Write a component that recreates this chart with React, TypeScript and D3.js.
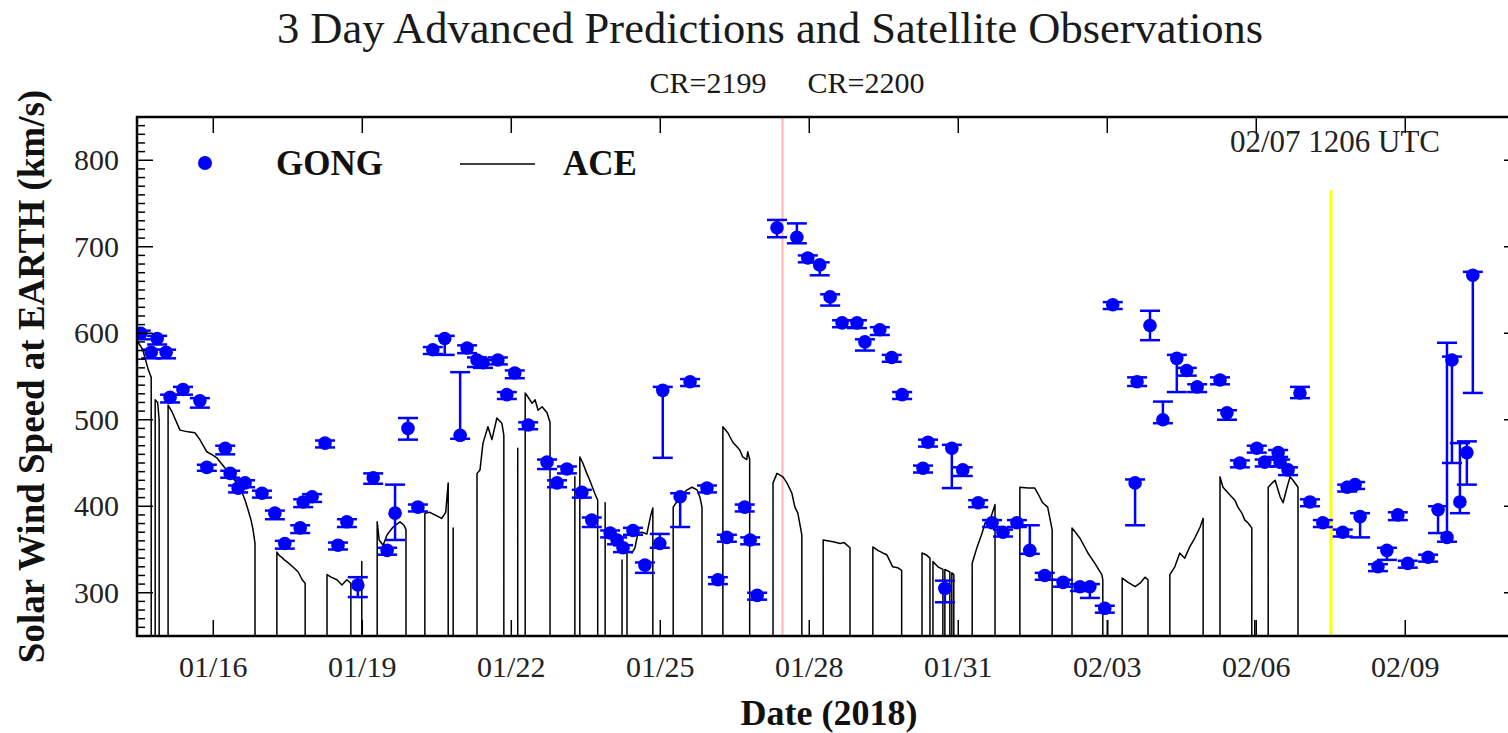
import React from 'react';
import * as d3 from 'd3';

// days are counted from 2018-01-01 (day 1), so Feb 1 = day 32
const xStartDay = 14.464;
const xEndDay = 42.31;
const crBoundaryDay = 27.46;
const nowDay = 38.504; // 02/07 1206 UTC
const nowLineTop = 765;

const xTickDays = [16, 19, 22, 25, 28, 31, 34, 37, 40];
const xTickLabels = ['01/16', '01/19', '01/22', '01/25', '01/28', '01/31', '02/03', '02/06', '02/09'];
const yMajorTicks = [300, 400, 500, 600, 700, 800];

// GONG predictions (day, speed, error down, error up)
const gongDay = [
  14.54, 14.87, 14.75, 15.05, 15.13, 15.39, 15.73, 15.87, 16.24, 16.34,
  16.64, 16.5, 16.98, 17.24, 17.44, 17.75, 17.81, 17.99, 18.25, 18.51,
  18.69, 18.91, 19.22, 19.5, 19.66, 19.92, 20.12, 20.42, 20.66, 20.97,
  21.11, 21.31, 21.43, 21.73, 21.91, 22.07, 22.34, 22.72, 22.92, 23.12,
  23.42, 23.62, 23.99, 24.13, 24.25, 24.45, 24.69, 24.99, 25.05, 25.4,
  25.6, 25.94, 26.16, 26.34, 26.7, 26.81, 26.95, 27.35, 27.75, 27.97,
  28.21, 28.42, 28.66, 28.96, 29.12, 29.42, 29.66, 29.87, 30.29, 30.39,
  30.73, 30.87, 31.09, 31.4, 31.68, 31.9, 32.18, 32.44, 32.74, 33.11,
  33.45, 33.65, 33.95, 34.11, 34.56, 34.6, 34.86, 35.12, 35.4, 35.6,
  35.81, 36.27, 36.41, 36.67, 37.01, 37.17, 37.44, 37.48, 37.64, 37.88,
  38.08, 38.34, 38.74, 38.83, 38.99, 39.09, 39.45, 39.63, 39.85, 40.05,
  40.46, 40.66, 40.84, 40.94, 41.1, 41.24, 41.36,
];
const gongSpeed = [
  600, 594, 578, 578, 526, 535, 522, 445, 467, 438,
  427, 421, 415, 392, 357, 375, 405, 411, 473, 355,
  382, 309, 433, 349, 392, 490, 399, 581, 594, 482,
  583, 569, 566, 569, 529, 554, 494, 451, 427, 443,
  416, 384, 369, 361, 352, 372, 332, 357, 534, 411,
  544, 421, 315, 364, 399, 361, 297, 722, 711, 687,
  679, 642, 612, 612, 590, 604, 572, 529, 444, 474,
  305, 467, 442, 404, 381, 370, 381, 349, 320, 312,
  307, 307, 282, 633, 427, 544, 609, 500, 571, 557,
  538, 546, 508, 450, 467, 451, 462, 451, 442, 531,
  405, 381, 370, 422, 425, 388, 330, 349, 390, 334,
  341, 396, 364, 569, 405, 462, 667,
];
const gongErrDown = [
  7, 7, 7, 7, 6, 6, 8, 4, 7, 5,
  5, 5, 5, 7, 6, 6, 6, 6, 5, 5,
  6, 14, 7, 5, 31, 13, 5, 5, 19, 4,
  6, 8, 6, 5, 5, 6, 5, 8, 5, 5,
  6, 8, 5, 5, 5, 5, 9, 5, 78, 35,
  5, 5, 5, 5, 5, 5, 5, 11, 7, 5,
  12, 10, 5, 6, 10, 6, 5, 5, 5, 5,
  16, 46, 7, 5, 5, 5, 5, 4, 5, 5,
  5, 13, 5, 5, 49, 5, 17, 4, 39, 6,
  6, 5, 8, 5, 5, 5, 5, 5, 6, 6,
  5, 5, 5, 5, 5, 24, 5, 11, 6, 5,
  5, 27, 5, 119, 13, 37, 136,
];
const gongErrUp = [
  3, 3, 3, 3, 3, 3, 3, 3, 3, 3,
  3, 3, 3, 3, 3, 3, 3, 3, 3, 3,
  3, 9, 5, 3, 33, 12, 3, 3, 3, 73,
  3, 3, 3, 3, 3, 3, 3, 3, 3, 3,
  3, 3, 3, 3, 3, 3, 3, 11, 4, 4,
  3, 3, 3, 3, 3, 3, 3, 9, 16, 3,
  3, 3, 3, 3, 3, 3, 3, 3, 3, 3,
  9, 4, 3, 3, 3, 3, 3, 29, 3, 3,
  3, 3, 3, 3, 4, 5, 17, 21, 4, 3,
  3, 3, 3, 3, 3, 3, 3, 3, 3, 7,
  3, 3, 3, 3, 3, 4, 3, 3, 3, 3,
  3, 4, 225, 4, 68, 13, 4,
];

// ACE observations, one list per stretch between data gaps
const aceSegments: [number, number][][] = [
  [[14.46, 592], [14.58, 581], [14.69, 558], [14.75, 549]],
  [[14.83, 523], [14.88, 520], [14.91, 500]],
  [[15.09, 517], [15.17, 509], [15.33, 488], [15.49, 486], [15.63, 485], [15.73, 477], [15.87, 463],
    [15.99, 459], [16.07, 456], [16.24, 444], [16.34, 436], [16.46, 428], [16.54, 422], [16.64, 407],
    [16.7, 396], [16.76, 384], [16.8, 373], [16.84, 357]],
  [[17.28, 347], [17.33, 343], [17.38, 341], [17.43, 338], [17.48, 336], [17.6, 330], [17.71, 324], [17.79, 315], [17.85, 311]],
  [[18.29, 321], [18.37, 318], [18.49, 315], [18.59, 309], [18.69, 315], [18.77, 311]],
  [[18.99, 336]],
  [[19.3, 382], [19.34, 361], [19.42, 355], [19.5, 367], [19.62, 376], [19.76, 382], [19.84, 378], [19.88, 373]],
  [[20.26, 392], [20.36, 393], [20.46, 390], [20.6, 386], [20.68, 393], [20.73, 427]],
  [[20.83, 375]],
  [[21.31, 438], [21.37, 442], [21.43, 473], [21.53, 492], [21.61, 477], [21.71, 502], [21.81, 496], [21.85, 482]],
  [[22.13, 467]],
  [[22.28, 531], [22.34, 526], [22.42, 519], [22.48, 523], [22.54, 511], [22.62, 515], [22.72, 508], [22.78, 497]],
  [[23.28, 434]],
  [[23.38, 457], [23.44, 450], [23.52, 438], [23.58, 430], [23.68, 415], [23.74, 407]],
  [[23.89, 404]],
  [[24.23, 338]],
  [[24.33, 349], [24.43, 346], [24.49, 352], [24.55, 369], [24.63, 370], [24.73, 368], [24.81, 390], [24.85, 398]],
  [[25.26, 399], [25.4, 411], [25.54, 419], [25.64, 422], [25.74, 419], [25.8, 410], [25.84, 399]],
  [[26.26, 492], [26.36, 485], [26.46, 474], [26.54, 469], [26.6, 465], [26.66, 457], [26.74, 454], [26.76, 463], [26.8, 454]],
  [[27.27, 427], [27.35, 438], [27.47, 434], [27.55, 427], [27.65, 415], [27.71, 399], [27.77, 392], [27.85, 367]],
  [[28.28, 361], [28.48, 359], [28.62, 357], [28.7, 358], [28.76, 355], [28.82, 352]],
  [[29.28, 353], [29.38, 349], [29.48, 346], [29.56, 344], [29.68, 330], [29.78, 329], [29.86, 326]],
  [[30.27, 346], [30.35, 344], [30.43, 340]],
  [[30.49, 336], [30.59, 330], [30.69, 327]],
  [[30.73, 327], [30.83, 324]],
  [[30.87, 323], [30.91, 321]],
  [[31.28, 334], [31.38, 353], [31.48, 369], [31.54, 381], [31.64, 384], [31.74, 402]],
  [[32.24, 422], [32.4, 421], [32.54, 421], [32.6, 415], [32.7, 404], [32.8, 399], [32.89, 373]],
  [[33.29, 375], [33.45, 363], [33.61, 346], [33.75, 334], [33.89, 321], [33.91, 315]],
  [[34.01, 268]],
  [[34.3, 317], [34.42, 312], [34.56, 307], [34.66, 311], [34.76, 318], [34.82, 315]],
  [[35.26, 321], [35.36, 330], [35.46, 346], [35.56, 340], [35.66, 353], [35.76, 363], [35.87, 376], [35.93, 386]],
  [[36.27, 434], [36.33, 422], [36.47, 413], [36.57, 407], [36.63, 399], [36.71, 392], [36.77, 384], [36.83, 381], [36.91, 375]],
  [[36.97, 268]],
  [[37.24, 422], [37.32, 427], [37.38, 430], [37.48, 411], [37.54, 404], [37.62, 422], [37.68, 434], [37.74, 430], [37.84, 422]],
];

const toDate = (d: number) => new Date(Date.UTC(2018, 0, 1) + (d - 1) * 864e5);

const left = 137, right = 1520, top = 117, bottom = 636;
const serif = "'Liberation Serif', 'Times New Roman', serif";

export default function App() {
  const x = d3.scaleUtc().domain([toDate(xStartDay), toDate(xEndDay)]).range([left, right]);
  const y = d3.scaleLinear().domain([250, 850]).range([bottom, top]);
  const px = (d: number) => x(toDate(d));

  // gaps in the ACE data drop to zero (below the frame)
  const acePts: [number, number][] = [];
  aceSegments.forEach(seg => {
    acePts.push([seg[0][0], 0]);
    seg.forEach(p => acePts.push(p));
    acePts.push([seg[seg.length - 1][0], 0]);
  });
  const aceLine = d3.line<[number, number]>().x(d => px(d[0])).y(d => y(d[1]))(acePts) || '';

  const minorTicks = d3.range(250, 851, 10).filter(v => v % 100 !== 0);

  return (
    <svg width={1508} height={733} style={{ position: 'absolute', left: 0, top: 0, background: '#fff' }}>
      <defs>
        <clipPath id="plot">
          <rect x={left} y={top} width={right - left} height={bottom - top} />
        </clipPath>
      </defs>

      <text x={770} y={43} textAnchor="middle" fontFamily={serif} fontSize={44.5} fill="#1a1a1a">
        3 Day Advanced Predictions and Satellite Observations
      </text>
      <text x={px(crBoundaryDay) - 16} y={93} textAnchor="end" fontFamily={serif} fontSize={30} fill="#1a1a1a">CR=2199</text>
      <text x={px(crBoundaryDay) + 25} y={93} textAnchor="start" fontFamily={serif} fontSize={30} fill="#1a1a1a">CR=2200</text>

      <g clipPath="url(#plot)">
        <line x1={px(crBoundaryDay)} x2={px(crBoundaryDay)} y1={top} y2={bottom} stroke="#ffb3bd" strokeWidth={2} />
        <line x1={px(nowDay)} x2={px(nowDay)} y1={y(nowLineTop)} y2={bottom} stroke="#ffff00" strokeWidth={3} />
        <path d={aceLine} fill="none" stroke="#000" strokeWidth={1.5} strokeLinejoin="round" />
        {gongDay.map((d, i) => {
          const cx = px(d);
          const lo = y(gongSpeed[i] - gongErrDown[i]);
          const hi = y(gongSpeed[i] + gongErrUp[i]);
          return (
            <g key={i} stroke="#0000ff" strokeWidth={2.5}>
              <line x1={cx} x2={cx} y1={lo} y2={hi} />
              <line x1={cx - 10} x2={cx + 10} y1={lo} y2={lo} />
              <line x1={cx - 10} x2={cx + 10} y1={hi} y2={hi} />
              <circle cx={cx} cy={y(gongSpeed[i])} r={6.8} fill="#0000ff" stroke="none" />
            </g>
          );
        })}
      </g>

      {/* ticks */}
      <g stroke="#000" strokeWidth={1.5}>
        {yMajorTicks.map(v => (
          <g key={v}>
            <line x1={left} x2={left + 16} y1={y(v)} y2={y(v)} />
            <line x1={right} x2={right - 16} y1={y(v)} y2={y(v)} />
          </g>
        ))}
        {minorTicks.map(v => (
          <g key={v}>
            <line x1={left} x2={left + 8} y1={y(v)} y2={y(v)} />
            <line x1={right} x2={right - 8} y1={y(v)} y2={y(v)} />
          </g>
        ))}
        {xTickDays.map(d => (
          <g key={d}>
            <line x1={px(d)} x2={px(d)} y1={top} y2={top + 16} />
            <line x1={px(d)} x2={px(d)} y1={bottom} y2={bottom - 16} />
          </g>
        ))}
      </g>
      <rect x={left} y={top} width={right - left} height={bottom - top} fill="none" stroke="#000" strokeWidth={2.5} />

      {yMajorTicks.map(v => (
        <text key={v} x={119} y={y(v) + 10} textAnchor="end" fontFamily={serif} fontSize={30} fill="#222">{v}</text>
      ))}
      {xTickDays.map((d, i) => (
        <text key={d} x={px(d)} y={677} textAnchor="middle" fontFamily={serif} fontSize={30} fill="#222">{xTickLabels[i]}</text>
      ))}

      <text x={1440} y={152} textAnchor="end" fontFamily={serif} fontSize={31} fill="#222">02/07 1206 UTC</text>

      {/* legend */}
      <circle cx={205} cy={163} r={7} fill="#0000ff" />
      <text x={276} y={175} fontFamily={serif} fontSize={35} fontWeight="bold" fill="#111">GONG</text>
      <line x1={460} x2={535} y1={164} y2={164} stroke="#000" strokeWidth={1.3} />
      <text x={563} y={175} fontFamily={serif} fontSize={35} fontWeight="bold" fill="#111">ACE</text>

      <text x={829} y={725} textAnchor="middle" fontFamily={serif} fontSize={36} fontWeight="bold" fill="#111">Date (2018)</text>
      <text transform={`translate(44,${(top + bottom) / 2}) rotate(-90)`} textAnchor="middle" fontFamily={serif} fontSize={37} fontWeight="bold" fill="#111">
        Solar Wind Speed at EARTH (km/s)
      </text>
    </svg>
  );
}
